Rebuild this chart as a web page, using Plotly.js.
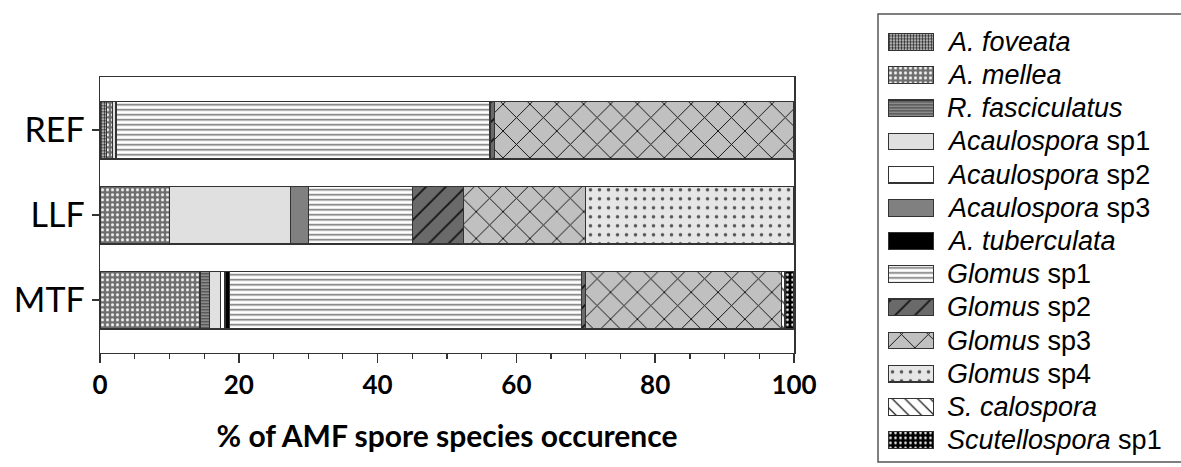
<!DOCTYPE html>
<html>
<head>
<meta charset="utf-8">
<script src="https://cdn.plot.ly/plotly-3.0.1.min.js"></script>
<style>html,body{margin:0;padding:0;background:#fff;}#chart{width:1181px;height:467px;}</style>
</head>
<body>
<div id="chart"></div>
<script>
// Sites (y categories, top to bottom)
const sites = ['REF', 'LLF', 'MTF'];

// Species names (stack / legend order)
const speciesNames = ['A. foveata', 'A. mellea', 'R. fasciculatus', 'Acaulospora sp1', 'Acaulospora sp2',
  'Acaulospora sp3', 'A. tuberculata', 'Glomus sp1', 'Glomus sp2', 'Glomus sp3', 'Glomus sp4',
  'S. calospora', 'Scutellospora sp1'];
const speciesLabels = ['<i>A. foveata</i>', '<i>A. mellea</i>', '<i>R. fasciculatus</i>', '<i>Acaulospora</i> sp1',
  '<i>Acaulospora</i> sp2', '<i>Acaulospora</i> sp3', '<i>A. tuberculata</i>', '<i>Glomus</i> sp1',
  '<i>Glomus</i> sp2', '<i>Glomus</i> sp3', '<i>Glomus</i> sp4', '<i>S. calospora</i>', '<i>Scutellospora</i> sp1'];

// % occurrence per site, order [REF, LLF, MTF]
const aFoveata        = [0.9, 0, 0];
const aMellea         = [0.9, 10.0, 14.4];
const rFasciculatus   = [0, 0, 1.4];
const acaulosporaSp1  = [0.5, 17.5, 1.6];
const acaulosporaSp2  = [0, 0, 0.6];
const acaulosporaSp3  = [0, 2.5, 0];
const aTuberculata    = [0, 0, 0.7];
const glomusSp1       = [53.9, 15.0, 50.7];
const glomusSp2       = [0.6, 7.4, 0.6];
const glomusSp3       = [43.2, 17.5, 28.2];
const glomusSp4       = [0, 30.1, 0];
const sCalospora      = [0, 0, 0.5];
const scutellosporaSp1 = [0, 0, 1.3];

const seriesValues = [aFoveata, aMellea, rFasciculatus, acaulosporaSp1, acaulosporaSp2, acaulosporaSp3,
  aTuberculata, glomusSp1, glomusSp2, glomusSp3, glomusSp4, sCalospora, scutellosporaSp1];

// Fill styles
const fills = [
  {color: '#d0d0d0', pattern: {shape: '.', bgcolor: '#dcdcdc', fgcolor: '#222', size: 3, solidity: 0.5}},
  {color: '#777', pattern: {shape: '.', bgcolor: '#6e6e6e', fgcolor: '#f4f4f4', size: 5, solidity: 0.3}},
  {color: '#777', pattern: {shape: '-', bgcolor: '#9a9a9a', fgcolor: '#444', size: 3, solidity: 0.45}},
  {color: '#e0e0e0'},
  {color: '#ffffff'},
  {color: '#808080'},
  {color: '#000000'},
  {color: '#fff', pattern: {shape: '-', bgcolor: '#fff', fgcolor: '#6a6a6a', size: 5, solidity: 0.3}},
  {color: '#666', pattern: {shape: '/', bgcolor: '#6a6a6a', fgcolor: '#111', size: 14, solidity: 0.12}},
  {color: '#c0c0c0', pattern: {shape: 'x', bgcolor: '#c0c0c0', fgcolor: '#111', size: 19, solidity: 0.1}},
  {color: '#e6e6e6', pattern: {shape: '.', bgcolor: '#e6e6e6', fgcolor: '#555', size: 9, solidity: 0.12}},
  {color: '#fff', pattern: {shape: '\\', bgcolor: '#fff', fgcolor: '#222', size: 9, solidity: 0.15}},
  {color: '#000', pattern: {shape: '.', bgcolor: '#000', fgcolor: '#fff', size: 5, solidity: 0.2}}
];

const edge = {color: '#333', width: 1.2};
const traces = [];
speciesNames.forEach((name, i) => {
  const f = fills[i];
  const marker = {color: f.color, line: edge};
  if (f.pattern) marker.pattern = Object.assign({fillmode: 'replace'}, f.pattern);
  traces.push({
    type: 'bar', orientation: 'h', name: name,
    x: seriesValues[i].map(v => v === 0 ? null : v), y: sites,
    marker: marker, width: 0.68, showlegend: false, hoverinfo: 'x+name',
    xaxis: 'x', yaxis: 'y'
  });
  // legend swatch
  traces.push({
    type: 'bar', orientation: 'h', name: name + ' (legend)',
    x: [1], y: [i], base: [0], width: [0.5],
    marker: marker, showlegend: false, hoverinfo: 'skip',
    xaxis: 'x2', yaxis: 'y2'
  });
});

const W = 1181, H = 467;
const annotations = speciesLabels.map((lab, i) => ({
  text: lab, x: 945 / W, xref: 'paper', xanchor: 'left',
  y: i, yref: 'y2', yanchor: 'middle', showarrow: false,
  font: {family: 'Liberation Sans, Arial, sans-serif', size: 27, color: '#000'}
}));

const layout = {
  width: W, height: H, autosize: false,
  margin: {l: 0, r: 0, t: 0, b: 0},
  paper_bgcolor: '#fff', plot_bgcolor: '#fff',
  barmode: 'stack', showlegend: false,
  xaxis: {
    domain: [100 / W, 794 / W], range: [0, 100], dtick: 20,
    showgrid: false, zeroline: false,
    showline: true, mirror: true, linecolor: '#333', linewidth: 1.5,
    ticks: 'outside', ticklen: 9, tickwidth: 1.5, tickcolor: '#333',
    minor: {dtick: 5, ticks: 'outside', ticklen: 5, tickwidth: 1.2, tickcolor: '#333', showgrid: false},
    tickfont: {family: 'Lato, sans-serif', size: 26, weight: 'bold', color: '#000'},
    title: {text: '% of AMF spore species occurence', standoff: 26,
      font: {family: 'Lato, sans-serif', size: 30, weight: 'bold', color: '#000'}}
  },
  yaxis: {
    domain: [(H - 352.7) / H, (H - 77.3) / H],
    type: 'category', categoryorder: 'array', categoryarray: sites,
    range: [2.62, -0.62],
    showgrid: false, zeroline: false,
    showline: true, mirror: true, linecolor: '#333', linewidth: 1.5,
    ticks: 'outside', ticklen: 7, tickwidth: 1.5, tickcolor: '#333',
    tickfont: {family: 'Lato, sans-serif', size: 34, color: '#000'}
  },
  xaxis2: {
    domain: [888 / W, 934 / W], range: [0, 1], anchor: 'y2',
    visible: false, fixedrange: true
  },
  yaxis2: {
    domain: [(H - 456.6) / H, (H - 25.4) / H], range: [12.5, -0.5], anchor: 'x2',
    visible: false, fixedrange: true
  },
  shapes: [{
    type: 'rect', xref: 'paper', yref: 'paper',
    x0: 878 / W, x1: 1.02, y0: (H - 462) / H, y1: (H - 14) / H,
    line: {color: '#555', width: 1.5}, fillcolor: 'rgba(0,0,0,0)', layer: 'below'
  }],
  annotations: annotations
};

Plotly.newPlot('chart', traces, layout, {displayModeBar: false, staticPlot: true});
</script>
</body>
</html>
